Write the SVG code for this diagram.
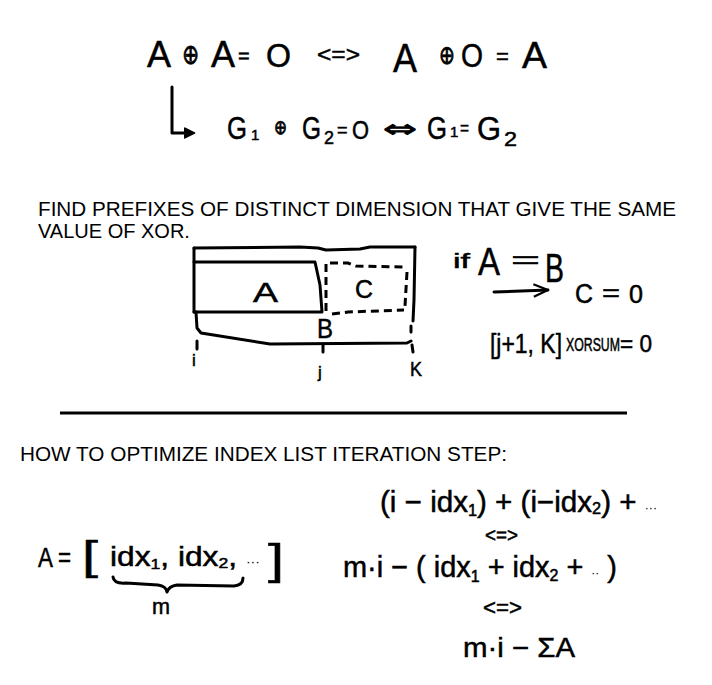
<svg xmlns="http://www.w3.org/2000/svg" width="712" height="685" viewBox="0 0 712 685">
<defs>
<style>
.hw{font-family:"Liberation Sans",Arial,sans-serif;fill:#000;stroke:#000;stroke-width:0.5}
.sym{font-family:"DejaVu Sans","Liberation Sans",sans-serif;fill:#000;stroke:#000;stroke-width:0.8}
.pr{font-family:"Liberation Sans",Arial,sans-serif;font-size:20px;fill:#000}
.ln{fill:none;stroke:#000;stroke-width:3;stroke-linecap:round;stroke-linejoin:round}
.dash{fill:none;stroke:#000;stroke-width:3;stroke-dasharray:8 5}
</style>
<marker id="tri" viewBox="0 0 10 10" refX="2" refY="5" markerWidth="4" markerHeight="4" orient="auto" markerUnits="strokeWidth">
<path d="M1,1 L9,5 L1,9 Z" fill="#000" stroke="#000" stroke-width="1.5" stroke-linejoin="round"/>
</marker>
<marker id="open" viewBox="0 0 20 16" refX="18" refY="8" markerWidth="6" markerHeight="5" orient="auto" markerUnits="strokeWidth">
<path d="M2,1 L18,8 L2,15" fill="none" stroke="#000" stroke-width="2.5" stroke-linejoin="round"/>
</marker>
</defs>
<rect width="712" height="685" fill="#fff"/>

<g id="eq1">
<text class="hw" x="147" y="67" font-size="36">A</text>
<text class="sym" x="182" y="64" font-size="28" textLength="17" lengthAdjust="spacingAndGlyphs">⊕</text>
<text class="hw" x="211" y="67" font-size="36">A</text>
<text class="hw" x="238" y="63" font-size="20">=</text>
<text class="hw" x="266" y="67" font-size="34" textLength="25" lengthAdjust="spacingAndGlyphs">O</text>
<text class="hw" x="317" y="62" font-size="22" textLength="43" lengthAdjust="spacingAndGlyphs">&lt;=&gt;</text>
<text class="hw" x="393" y="72" font-size="40" textLength="24" lengthAdjust="spacingAndGlyphs">A</text>
<text class="sym" x="439" y="64" font-size="26" textLength="16" lengthAdjust="spacingAndGlyphs">⊕</text>
<text class="hw" x="461" y="67" font-size="34" textLength="22" lengthAdjust="spacingAndGlyphs">O</text>
<text class="hw" x="496" y="64" font-size="22">=</text>
<text class="hw" x="522" y="68" font-size="36" textLength="25" lengthAdjust="spacingAndGlyphs">A</text>
</g>

<g id="eq2">
<text class="hw" x="227" y="139" font-size="32" textLength="20" lengthAdjust="spacingAndGlyphs">G</text>
<text class="hw" x="251" y="140" font-size="15">1</text>
<text class="sym" x="274" y="134" font-size="20" textLength="13" lengthAdjust="spacingAndGlyphs">⊕</text>
<text class="hw" x="302" y="139" font-size="32" textLength="19" lengthAdjust="spacingAndGlyphs">G</text>
<text class="hw" x="324" y="144" font-size="18" textLength="10" lengthAdjust="spacingAndGlyphs">2</text>
<text class="hw" x="337" y="136" font-size="18">=</text>
<text class="hw" x="352" y="139" font-size="25" textLength="17" lengthAdjust="spacingAndGlyphs">O</text>
<text class="sym" x="383" y="137" font-size="24" textLength="34" lengthAdjust="spacingAndGlyphs">⇔</text>
<text class="hw" x="427" y="139" font-size="32" textLength="20" lengthAdjust="spacingAndGlyphs">G</text>
<text class="hw" x="450" y="137" font-size="15">1</text>
<text class="hw" x="460" y="134" font-size="18" textLength="9" lengthAdjust="spacingAndGlyphs">=</text>
<text class="hw" x="477" y="140" font-size="34" textLength="24" lengthAdjust="spacingAndGlyphs">G</text>
<text class="hw" x="504" y="146" font-size="20" textLength="13" lengthAdjust="spacingAndGlyphs">2</text>
</g>

<g id="title1">
<text class="pr" x="38" y="216" textLength="638" lengthAdjust="spacingAndGlyphs">FIND PREFIXES OF DISTINCT DIMENSION THAT GIVE THE SAME</text>
<text class="pr" x="38" y="238">VALUE OF XOR.</text>
</g>

<g id="boxes">
<path class="ln" d="M194,248 L300,247 L318,248 L326,250 L360,249 L370,247 L415,247"/>
<path class="ln" d="M194,248 L194,312"/>
<path class="ln" d="M194,262 L315,262 L320,285 L322,312 L194,312"/>
<path class="ln" d="M196,312 L197,328 L201,333 L270,344 L407,343 L411,341"/>
<path class="ln" d="M415,247 L414,300 L413,321"/>
<path class="ln" d="M411,326 L411,332"/>
<path class="dash" d="M326,264 L326,315"/>
<path class="dash" d="M330,263 L348,263 L356,266 L407,267"/>
<path class="dash" d="M407,272 L405,306"/>
<path class="dash" d="M332,314 L348,312 L404,310"/>
<path class="ln" d="M197,341 L197,349"/>
<path class="ln" d="M323,345 L323,352"/>
<path class="ln" d="M412,345 L413,352"/>
<text class="hw" x="253" y="302" font-size="27" textLength="25" lengthAdjust="spacingAndGlyphs">A</text>
<text class="hw" x="355" y="298" font-size="25" textLength="18" lengthAdjust="spacingAndGlyphs">C</text>
<text class="hw" x="317" y="338" font-size="27" textLength="16" lengthAdjust="spacingAndGlyphs">B</text>
<text class="hw" x="192" y="366" font-size="17">i</text>
<text class="hw" x="318" y="378" font-size="17">j</text>
<text class="hw" x="410" y="376" font-size="20" textLength="12" lengthAdjust="spacingAndGlyphs">K</text>
</g>

<g id="cond">
<text class="hw" x="453" y="268" font-size="21" textLength="17" lengthAdjust="spacingAndGlyphs">if</text>
<text class="hw" x="478" y="275" font-size="38" textLength="22" lengthAdjust="spacingAndGlyphs">A</text>
<text class="hw" x="511" y="268" font-size="24" stroke-width="0" textLength="29" lengthAdjust="spacingAndGlyphs">=</text>
<text class="hw" x="545" y="282" font-size="40" textLength="19" lengthAdjust="spacingAndGlyphs">B</text>
<text class="hw" x="575" y="303" font-size="27" textLength="18" lengthAdjust="spacingAndGlyphs">C</text>
<text class="hw" x="602" y="301" font-size="24" textLength="18" lengthAdjust="spacingAndGlyphs">=</text>
<text class="hw" x="629" y="303" font-size="26" textLength="14" lengthAdjust="spacingAndGlyphs">0</text>
<text class="hw" x="490" y="353" font-size="28" textLength="72" lengthAdjust="spacingAndGlyphs">[j+1, K]</text>
<text class="hw" x="566" y="351" font-size="18" textLength="54" lengthAdjust="spacingAndGlyphs">XORSUM</text>
<text class="hw" x="620" y="352" font-size="24" textLength="32" lengthAdjust="spacingAndGlyphs">= 0</text>
</g>

<g id="connectors">
<path class="ln" d="M172,87 L172,133 L186,133" marker-end="url(#tri)"/>
<path class="ln" d="M494,292 L548,290" marker-end="url(#open)"/>
<path class="ln" d="M113,577 Q114,584 126,583 L158,585 Q166,586 167,592 Q169,586 177,585 L234,586 Q243,585 243,578"/>
</g>

<line x1="60" y1="413" x2="627" y2="413" stroke="#000" stroke-width="3"/>

<g id="title2">
<text class="pr" x="20" y="461" textLength="487" lengthAdjust="spacingAndGlyphs">HOW TO OPTIMIZE INDEX LIST ITERATION STEP:</text>
</g>

<g id="list">
<text class="hw" x="38" y="567" font-size="28" textLength="33" lengthAdjust="spacingAndGlyphs">A =</text>
<text class="hw" x="82" y="570" font-size="40" textLength="16" lengthAdjust="spacingAndGlyphs">[</text>
<text class="hw" x="110" y="566" font-size="27" textLength="150" lengthAdjust="spacingAndGlyphs">idx<tspan font-size="15" dy="3">1</tspan><tspan dy="-3">, idx</tspan><tspan font-size="15" dy="2">2</tspan><tspan dy="-2">, </tspan><tspan font-size="12" stroke-width="0">···</tspan></text>
<text class="hw" x="268" y="574" font-size="42" textLength="16" lengthAdjust="spacingAndGlyphs">]</text>
<text class="hw" x="152" y="614" font-size="22" textLength="18" lengthAdjust="spacingAndGlyphs">m</text>
</g>

<g id="derivation">
<text class="hw" x="380" y="512" font-size="29" textLength="277" lengthAdjust="spacingAndGlyphs">(i − idx<tspan font-size="16" dy="4">1</tspan><tspan dy="-4">) + (i−idx</tspan><tspan font-size="16" dy="2">2</tspan><tspan dy="-2">) + </tspan><tspan font-size="12" stroke-width="0">···</tspan></text>
<text class="hw" x="485" y="542" font-size="20" textLength="33" lengthAdjust="spacingAndGlyphs">&lt;=&gt;</text>
<text class="hw" x="343" y="577" font-size="29" textLength="274" lengthAdjust="spacingAndGlyphs">m·i − ( idx<tspan font-size="16" dy="5">1</tspan><tspan dy="-5"> + idx</tspan><tspan font-size="16" dy="4">2</tspan><tspan dy="-4"> + </tspan><tspan font-size="12" stroke-width="0">··</tspan><tspan> )</tspan></text>
<text class="hw" x="483" y="615" font-size="22" textLength="39" lengthAdjust="spacingAndGlyphs">&lt;=&gt;</text>
<text class="hw" x="463" y="657" font-size="28" textLength="112" lengthAdjust="spacingAndGlyphs">m·i − ΣA</text>
</g>
</svg>
